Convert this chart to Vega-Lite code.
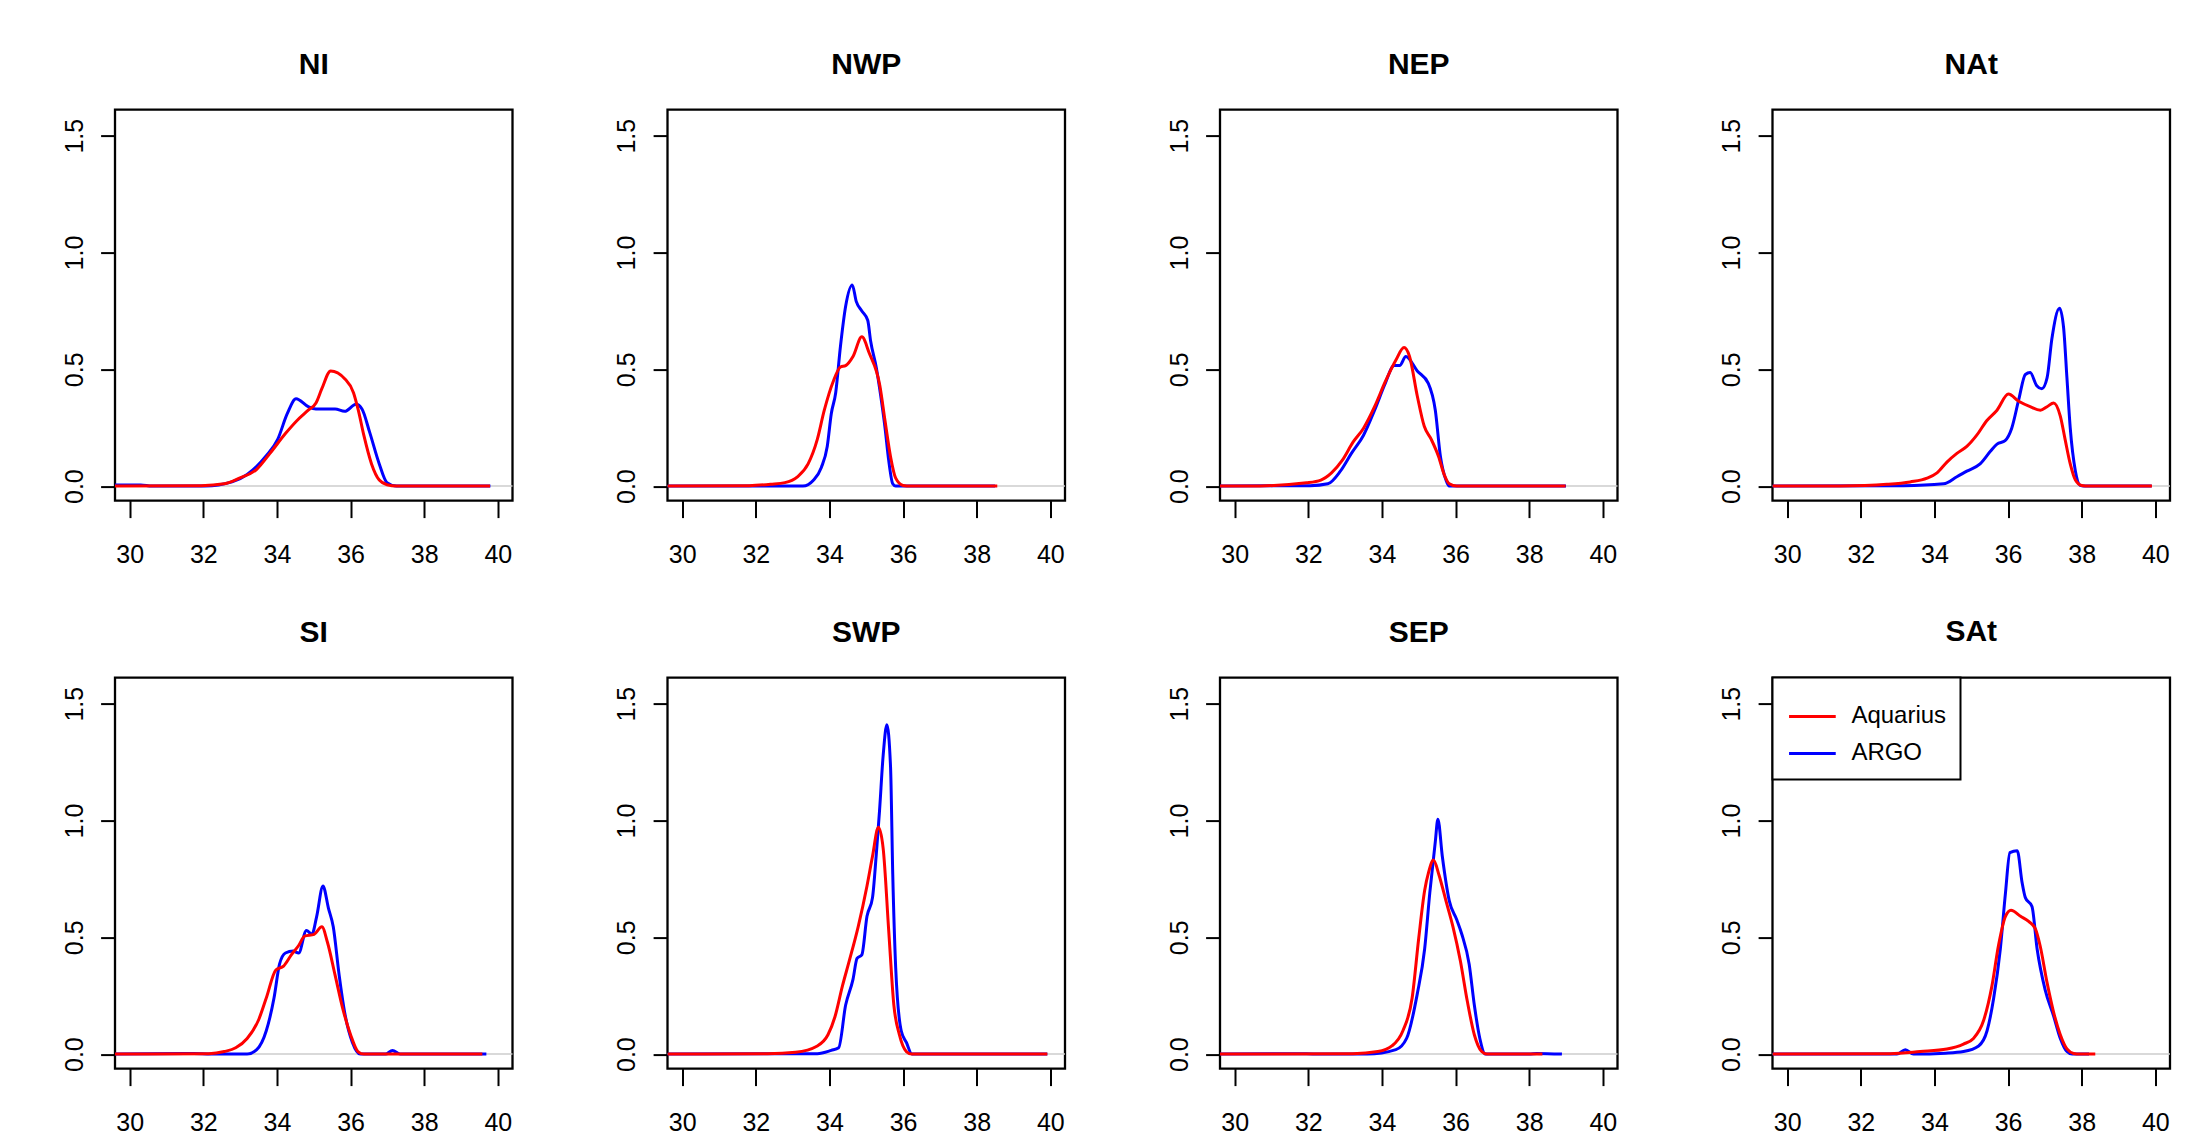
{
  "$schema": "https://vega.github.io/schema/vega-lite/v6.json",
  "background": "white",
  "padding": {"left": 61, "top": 47.6, "right": 0, "bottom": 0},
  "datasets": {
    "d": [
      {"r":"NI","s":"ARGO","x":29.6,"y":0.005},{"r":"NI","s":"ARGO","x":30.3,"y":0.005},{"r":"NI","s":"ARGO","x":30.6,"y":0},{"r":"NI","s":"ARGO","x":32.05,"y":0},{"r":"NI","s":"ARGO","x":32.78,"y":0.018},{"r":"NI","s":"ARGO","x":33.19,"y":0.05},{"r":"NI","s":"ARGO","x":33.71,"y":0.13},{"r":"NI","s":"ARGO","x":34.02,"y":0.2},{"r":"NI","s":"ARGO","x":34.28,"y":0.31},{"r":"NI","s":"ARGO","x":34.52,"y":0.374},{"r":"NI","s":"ARGO","x":34.85,"y":0.34},{"r":"NI","s":"ARGO","x":35.06,"y":0.33},{"r":"NI","s":"ARGO","x":35.58,"y":0.33},{"r":"NI","s":"ARGO","x":35.84,"y":0.32},{"r":"NI","s":"ARGO","x":36.15,"y":0.35},{"r":"NI","s":"ARGO","x":36.31,"y":0.33},{"r":"NI","s":"ARGO","x":36.52,"y":0.23},{"r":"NI","s":"ARGO","x":36.78,"y":0.095},{"r":"NI","s":"ARGO","x":36.99,"y":0.015},{"r":"NI","s":"ARGO","x":37.25,"y":0},{"r":"NI","s":"ARGO","x":39.8,"y":0},
      {"r":"NI","s":"Aquarius","x":29.6,"y":0},{"r":"NI","s":"Aquarius","x":31.94,"y":0.002},{"r":"NI","s":"Aquarius","x":32.57,"y":0.01},{"r":"NI","s":"Aquarius","x":32.98,"y":0.034},{"r":"NI","s":"Aquarius","x":33.45,"y":0.072},{"r":"NI","s":"Aquarius","x":33.81,"y":0.14},{"r":"NI","s":"Aquarius","x":34.23,"y":0.225},{"r":"NI","s":"Aquarius","x":34.54,"y":0.28},{"r":"NI","s":"Aquarius","x":34.85,"y":0.325},{"r":"NI","s":"Aquarius","x":35.06,"y":0.356},{"r":"NI","s":"Aquarius","x":35.22,"y":0.417},{"r":"NI","s":"Aquarius","x":35.46,"y":0.493},{"r":"NI","s":"Aquarius","x":35.84,"y":0.46},{"r":"NI","s":"Aquarius","x":36.08,"y":0.4},{"r":"NI","s":"Aquarius","x":36.21,"y":0.325},{"r":"NI","s":"Aquarius","x":36.36,"y":0.218},{"r":"NI","s":"Aquarius","x":36.57,"y":0.095},{"r":"NI","s":"Aquarius","x":36.78,"y":0.026},{"r":"NI","s":"Aquarius","x":36.99,"y":0.006},{"r":"NI","s":"Aquarius","x":37.25,"y":0},{"r":"NI","s":"Aquarius","x":39.79,"y":0},
      {"r":"NWP","s":"ARGO","x":29.6,"y":0},{"r":"NWP","s":"ARGO","x":33.28,"y":0},{"r":"NWP","s":"ARGO","x":33.57,"y":0.026},{"r":"NWP","s":"ARGO","x":33.78,"y":0.08},{"r":"NWP","s":"ARGO","x":33.94,"y":0.17},{"r":"NWP","s":"ARGO","x":34.05,"y":0.31},{"r":"NWP","s":"ARGO","x":34.17,"y":0.4},{"r":"NWP","s":"ARGO","x":34.3,"y":0.6},{"r":"NWP","s":"ARGO","x":34.44,"y":0.77},{"r":"NWP","s":"ARGO","x":34.62,"y":0.861},{"r":"NWP","s":"ARGO","x":34.73,"y":0.79},{"r":"NWP","s":"ARGO","x":34.88,"y":0.75},{"r":"NWP","s":"ARGO","x":35.04,"y":0.71},{"r":"NWP","s":"ARGO","x":35.12,"y":0.62},{"r":"NWP","s":"ARGO","x":35.27,"y":0.51},{"r":"NWP","s":"ARGO","x":35.39,"y":0.39},{"r":"NWP","s":"ARGO","x":35.51,"y":0.25},{"r":"NWP","s":"ARGO","x":35.61,"y":0.11},{"r":"NWP","s":"ARGO","x":35.72,"y":0.01},{"r":"NWP","s":"ARGO","x":35.8,"y":0},{"r":"NWP","s":"ARGO","x":38.5,"y":0},
      {"r":"NWP","s":"Aquarius","x":29.6,"y":0},{"r":"NWP","s":"Aquarius","x":31.82,"y":0.002},{"r":"NWP","s":"Aquarius","x":32.4,"y":0.008},{"r":"NWP","s":"Aquarius","x":32.79,"y":0.015},{"r":"NWP","s":"Aquarius","x":33.13,"y":0.04},{"r":"NWP","s":"Aquarius","x":33.42,"y":0.095},{"r":"NWP","s":"Aquarius","x":33.67,"y":0.2},{"r":"NWP","s":"Aquarius","x":33.86,"y":0.325},{"r":"NWP","s":"Aquarius","x":34.1,"y":0.447},{"r":"NWP","s":"Aquarius","x":34.3,"y":0.51},{"r":"NWP","s":"Aquarius","x":34.44,"y":0.516},{"r":"NWP","s":"Aquarius","x":34.64,"y":0.555},{"r":"NWP","s":"Aquarius","x":34.88,"y":0.639},{"r":"NWP","s":"Aquarius","x":35.08,"y":0.57},{"r":"NWP","s":"Aquarius","x":35.37,"y":0.43},{"r":"NWP","s":"Aquarius","x":35.51,"y":0.28},{"r":"NWP","s":"Aquarius","x":35.66,"y":0.126},{"r":"NWP","s":"Aquarius","x":35.8,"y":0.034},{"r":"NWP","s":"Aquarius","x":36.0,"y":0.003},{"r":"NWP","s":"Aquarius","x":36.2,"y":0},{"r":"NWP","s":"Aquarius","x":38.56,"y":0},
      {"r":"NEP","s":"ARGO","x":29.6,"y":0},{"r":"NEP","s":"ARGO","x":32.05,"y":0.002},{"r":"NEP","s":"ARGO","x":32.53,"y":0.01},{"r":"NEP","s":"ARGO","x":32.87,"y":0.064},{"r":"NEP","s":"ARGO","x":33.17,"y":0.14},{"r":"NEP","s":"ARGO","x":33.5,"y":0.218},{"r":"NEP","s":"ARGO","x":33.8,"y":0.325},{"r":"NEP","s":"ARGO","x":34.09,"y":0.44},{"r":"NEP","s":"ARGO","x":34.33,"y":0.516},{"r":"NEP","s":"ARGO","x":34.48,"y":0.516},{"r":"NEP","s":"ARGO","x":34.65,"y":0.555},{"r":"NEP","s":"ARGO","x":34.96,"y":0.493},{"r":"NEP","s":"ARGO","x":35.26,"y":0.44},{"r":"NEP","s":"ARGO","x":35.45,"y":0.325},{"r":"NEP","s":"ARGO","x":35.59,"y":0.126},{"r":"NEP","s":"ARGO","x":35.74,"y":0.026},{"r":"NEP","s":"ARGO","x":35.83,"y":0},{"r":"NEP","s":"ARGO","x":39.0,"y":0},
      {"r":"NEP","s":"Aquarius","x":29.6,"y":0},{"r":"NEP","s":"Aquarius","x":30.69,"y":0.001},{"r":"NEP","s":"Aquarius","x":31.95,"y":0.014},{"r":"NEP","s":"Aquarius","x":32.34,"y":0.026},{"r":"NEP","s":"Aquarius","x":32.63,"y":0.057},{"r":"NEP","s":"Aquarius","x":32.92,"y":0.11},{"r":"NEP","s":"Aquarius","x":33.21,"y":0.187},{"r":"NEP","s":"Aquarius","x":33.5,"y":0.248},{"r":"NEP","s":"Aquarius","x":33.8,"y":0.34},{"r":"NEP","s":"Aquarius","x":34.09,"y":0.447},{"r":"NEP","s":"Aquarius","x":34.38,"y":0.54},{"r":"NEP","s":"Aquarius","x":34.6,"y":0.593},{"r":"NEP","s":"Aquarius","x":34.75,"y":0.555},{"r":"NEP","s":"Aquarius","x":34.96,"y":0.386},{"r":"NEP","s":"Aquarius","x":35.15,"y":0.256},{"r":"NEP","s":"Aquarius","x":35.34,"y":0.2},{"r":"NEP","s":"Aquarius","x":35.54,"y":0.126},{"r":"NEP","s":"Aquarius","x":35.69,"y":0.05},{"r":"NEP","s":"Aquarius","x":35.83,"y":0.01},{"r":"NEP","s":"Aquarius","x":36.03,"y":0},{"r":"NEP","s":"Aquarius","x":38.99,"y":0},
      {"r":"NAt","s":"ARGO","x":29.6,"y":0},{"r":"NAt","s":"ARGO","x":33.16,"y":0.002},{"r":"NAt","s":"ARGO","x":34.25,"y":0.01},{"r":"NAt","s":"ARGO","x":34.61,"y":0.04},{"r":"NAt","s":"ARGO","x":34.88,"y":0.064},{"r":"NAt","s":"ARGO","x":35.24,"y":0.095},{"r":"NAt","s":"ARGO","x":35.52,"y":0.149},{"r":"NAt","s":"ARGO","x":35.7,"y":0.18},{"r":"NAt","s":"ARGO","x":35.92,"y":0.195},{"r":"NAt","s":"ARGO","x":36.1,"y":0.248},{"r":"NAt","s":"ARGO","x":36.29,"y":0.37},{"r":"NAt","s":"ARGO","x":36.47,"y":0.478},{"r":"NAt","s":"ARGO","x":36.6,"y":0.486},{"r":"NAt","s":"ARGO","x":36.78,"y":0.43},{"r":"NAt","s":"ARGO","x":36.92,"y":0.417},{"r":"NAt","s":"ARGO","x":37.06,"y":0.463},{"r":"NAt","s":"ARGO","x":37.19,"y":0.63},{"r":"NAt","s":"ARGO","x":37.4,"y":0.762},{"r":"NAt","s":"ARGO","x":37.51,"y":0.677},{"r":"NAt","s":"ARGO","x":37.6,"y":0.463},{"r":"NAt","s":"ARGO","x":37.69,"y":0.248},{"r":"NAt","s":"ARGO","x":37.83,"y":0.064},{"r":"NAt","s":"ARGO","x":37.96,"y":0.003},{"r":"NAt","s":"ARGO","x":38.05,"y":0},{"r":"NAt","s":"ARGO","x":39.9,"y":0},
      {"r":"NAt","s":"Aquarius","x":29.6,"y":0},{"r":"NAt","s":"Aquarius","x":31.44,"y":0.001},{"r":"NAt","s":"Aquarius","x":32.71,"y":0.008},{"r":"NAt","s":"Aquarius","x":33.34,"y":0.018},{"r":"NAt","s":"Aquarius","x":33.8,"y":0.034},{"r":"NAt","s":"Aquarius","x":34.07,"y":0.057},{"r":"NAt","s":"Aquarius","x":34.34,"y":0.103},{"r":"NAt","s":"Aquarius","x":34.61,"y":0.14},{"r":"NAt","s":"Aquarius","x":34.88,"y":0.17},{"r":"NAt","s":"Aquarius","x":35.15,"y":0.218},{"r":"NAt","s":"Aquarius","x":35.42,"y":0.28},{"r":"NAt","s":"Aquarius","x":35.7,"y":0.325},{"r":"NAt","s":"Aquarius","x":36.01,"y":0.394},{"r":"NAt","s":"Aquarius","x":36.29,"y":0.363},{"r":"NAt","s":"Aquarius","x":36.6,"y":0.34},{"r":"NAt","s":"Aquarius","x":36.88,"y":0.325},{"r":"NAt","s":"Aquarius","x":37.06,"y":0.34},{"r":"NAt","s":"Aquarius","x":37.24,"y":0.356},{"r":"NAt","s":"Aquarius","x":37.42,"y":0.3},{"r":"NAt","s":"Aquarius","x":37.55,"y":0.2},{"r":"NAt","s":"Aquarius","x":37.69,"y":0.095},{"r":"NAt","s":"Aquarius","x":37.83,"y":0.026},{"r":"NAt","s":"Aquarius","x":38.0,"y":0.003},{"r":"NAt","s":"Aquarius","x":38.2,"y":0},{"r":"NAt","s":"Aquarius","x":39.91,"y":0},
      {"r":"SI","s":"ARGO","x":29.6,"y":0},{"r":"SI","s":"ARGO","x":31.74,"y":0.003},{"r":"SI","s":"ARGO","x":32.2,"y":0},{"r":"SI","s":"ARGO","x":33.19,"y":0},{"r":"SI","s":"ARGO","x":33.45,"y":0.019},{"r":"SI","s":"ARGO","x":33.71,"y":0.1},{"r":"SI","s":"ARGO","x":33.92,"y":0.24},{"r":"SI","s":"ARGO","x":34.07,"y":0.385},{"r":"SI","s":"ARGO","x":34.23,"y":0.433},{"r":"SI","s":"ARGO","x":34.44,"y":0.441},{"r":"SI","s":"ARGO","x":34.59,"y":0.433},{"r":"SI","s":"ARGO","x":34.8,"y":0.529},{"r":"SI","s":"ARGO","x":34.95,"y":0.513},{"r":"SI","s":"ARGO","x":35.08,"y":0.59},{"r":"SI","s":"ARGO","x":35.25,"y":0.72},{"r":"SI","s":"ARGO","x":35.4,"y":0.624},{"r":"SI","s":"ARGO","x":35.53,"y":0.545},{"r":"SI","s":"ARGO","x":35.69,"y":0.338},{"r":"SI","s":"ARGO","x":35.84,"y":0.178},{"r":"SI","s":"ARGO","x":36.05,"y":0.05},{"r":"SI","s":"ARGO","x":36.26,"y":0},{"r":"SI","s":"ARGO","x":36.95,"y":0},{"r":"SI","s":"ARGO","x":37.14,"y":0.016},{"r":"SI","s":"ARGO","x":37.35,"y":0},{"r":"SI","s":"ARGO","x":39.69,"y":0},
      {"r":"SI","s":"Aquarius","x":29.6,"y":0},{"r":"SI","s":"Aquarius","x":32.15,"y":0.002},{"r":"SI","s":"Aquarius","x":32.57,"y":0.011},{"r":"SI","s":"Aquarius","x":32.88,"y":0.027},{"r":"SI","s":"Aquarius","x":33.19,"y":0.067},{"r":"SI","s":"Aquarius","x":33.5,"y":0.146},{"r":"SI","s":"Aquarius","x":33.71,"y":0.24},{"r":"SI","s":"Aquarius","x":33.97,"y":0.36},{"r":"SI","s":"Aquarius","x":34.18,"y":0.377},{"r":"SI","s":"Aquarius","x":34.39,"y":0.425},{"r":"SI","s":"Aquarius","x":34.59,"y":0.465},{"r":"SI","s":"Aquarius","x":34.75,"y":0.505},{"r":"SI","s":"Aquarius","x":35.01,"y":0.513},{"r":"SI","s":"Aquarius","x":35.22,"y":0.545},{"r":"SI","s":"Aquarius","x":35.37,"y":0.48},{"r":"SI","s":"Aquarius","x":35.58,"y":0.338},{"r":"SI","s":"Aquarius","x":35.79,"y":0.194},{"r":"SI","s":"Aquarius","x":36.0,"y":0.083},{"r":"SI","s":"Aquarius","x":36.2,"y":0.011},{"r":"SI","s":"Aquarius","x":36.36,"y":0},{"r":"SI","s":"Aquarius","x":39.58,"y":0},
      {"r":"SWP","s":"ARGO","x":29.6,"y":0},{"r":"SWP","s":"ARGO","x":33.67,"y":0.002},{"r":"SWP","s":"ARGO","x":34.05,"y":0.016},{"r":"SWP","s":"ARGO","x":34.25,"y":0.027},{"r":"SWP","s":"ARGO","x":34.44,"y":0.21},{"r":"SWP","s":"ARGO","x":34.64,"y":0.32},{"r":"SWP","s":"ARGO","x":34.75,"y":0.41},{"r":"SWP","s":"ARGO","x":34.88,"y":0.425},{"r":"SWP","s":"ARGO","x":35.02,"y":0.59},{"r":"SWP","s":"ARGO","x":35.17,"y":0.67},{"r":"SWP","s":"ARGO","x":35.27,"y":0.85},{"r":"SWP","s":"ARGO","x":35.36,"y":1.04},{"r":"SWP","s":"ARGO","x":35.46,"y":1.28},{"r":"SWP","s":"ARGO","x":35.56,"y":1.41},{"r":"SWP","s":"ARGO","x":35.66,"y":1.23},{"r":"SWP","s":"ARGO","x":35.72,"y":0.77},{"r":"SWP","s":"ARGO","x":35.8,"y":0.37},{"r":"SWP","s":"ARGO","x":35.95,"y":0.1},{"r":"SWP","s":"ARGO","x":36.09,"y":0.05},{"r":"SWP","s":"ARGO","x":36.24,"y":0},{"r":"SWP","s":"ARGO","x":39.92,"y":0},
      {"r":"SWP","s":"Aquarius","x":29.6,"y":0},{"r":"SWP","s":"Aquarius","x":32.31,"y":0.002},{"r":"SWP","s":"Aquarius","x":33.08,"y":0.008},{"r":"SWP","s":"Aquarius","x":33.67,"y":0.035},{"r":"SWP","s":"Aquarius","x":33.96,"y":0.083},{"r":"SWP","s":"Aquarius","x":34.15,"y":0.16},{"r":"SWP","s":"Aquarius","x":34.35,"y":0.29},{"r":"SWP","s":"Aquarius","x":34.54,"y":0.4},{"r":"SWP","s":"Aquarius","x":34.78,"y":0.545},{"r":"SWP","s":"Aquarius","x":35.02,"y":0.72},{"r":"SWP","s":"Aquarius","x":35.17,"y":0.847},{"r":"SWP","s":"Aquarius","x":35.33,"y":0.971},{"r":"SWP","s":"Aquarius","x":35.46,"y":0.88},{"r":"SWP","s":"Aquarius","x":35.61,"y":0.53},{"r":"SWP","s":"Aquarius","x":35.75,"y":0.21},{"r":"SWP","s":"Aquarius","x":35.9,"y":0.083},{"r":"SWP","s":"Aquarius","x":36.09,"y":0.011},{"r":"SWP","s":"Aquarius","x":36.24,"y":0},{"r":"SWP","s":"Aquarius","x":39.92,"y":0},
      {"r":"SEP","s":"ARGO","x":29.6,"y":0},{"r":"SEP","s":"ARGO","x":31.95,"y":0.002},{"r":"SEP","s":"ARGO","x":32.3,"y":0},{"r":"SEP","s":"ARGO","x":33.6,"y":0},{"r":"SEP","s":"ARGO","x":34.38,"y":0.019},{"r":"SEP","s":"ARGO","x":34.67,"y":0.067},{"r":"SEP","s":"ARGO","x":34.96,"y":0.258},{"r":"SEP","s":"ARGO","x":35.16,"y":0.45},{"r":"SEP","s":"ARGO","x":35.3,"y":0.69},{"r":"SEP","s":"ARGO","x":35.45,"y":0.91},{"r":"SEP","s":"ARGO","x":35.52,"y":1.006},{"r":"SEP","s":"ARGO","x":35.64,"y":0.847},{"r":"SEP","s":"ARGO","x":35.83,"y":0.656},{"r":"SEP","s":"ARGO","x":36.03,"y":0.576},{"r":"SEP","s":"ARGO","x":36.17,"y":0.513},{"r":"SEP","s":"ARGO","x":36.37,"y":0.385},{"r":"SEP","s":"ARGO","x":36.51,"y":0.21},{"r":"SEP","s":"ARGO","x":36.66,"y":0.067},{"r":"SEP","s":"ARGO","x":36.81,"y":0},{"r":"SEP","s":"ARGO","x":38.0,"y":0},{"r":"SEP","s":"ARGO","x":38.21,"y":0.003},{"r":"SEP","s":"ARGO","x":38.89,"y":0},
      {"r":"SEP","s":"Aquarius","x":29.6,"y":0},{"r":"SEP","s":"Aquarius","x":33.21,"y":0.002},{"r":"SEP","s":"Aquarius","x":33.89,"y":0.011},{"r":"SEP","s":"Aquarius","x":34.27,"y":0.035},{"r":"SEP","s":"Aquarius","x":34.57,"y":0.1},{"r":"SEP","s":"Aquarius","x":34.82,"y":0.24},{"r":"SEP","s":"Aquarius","x":35.0,"y":0.497},{"r":"SEP","s":"Aquarius","x":35.16,"y":0.7},{"r":"SEP","s":"Aquarius","x":35.27,"y":0.78},{"r":"SEP","s":"Aquarius","x":35.4,"y":0.831},{"r":"SEP","s":"Aquarius","x":35.55,"y":0.767},{"r":"SEP","s":"Aquarius","x":35.74,"y":0.656},{"r":"SEP","s":"Aquarius","x":35.93,"y":0.545},{"r":"SEP","s":"Aquarius","x":36.13,"y":0.4},{"r":"SEP","s":"Aquarius","x":36.32,"y":0.226},{"r":"SEP","s":"Aquarius","x":36.51,"y":0.083},{"r":"SEP","s":"Aquarius","x":36.71,"y":0.011},{"r":"SEP","s":"Aquarius","x":36.85,"y":0},{"r":"SEP","s":"Aquarius","x":38.36,"y":0},
      {"r":"SAt","s":"ARGO","x":29.6,"y":0},{"r":"SAt","s":"ARGO","x":32.98,"y":0},{"r":"SAt","s":"ARGO","x":33.21,"y":0.019},{"r":"SAt","s":"ARGO","x":33.43,"y":0},{"r":"SAt","s":"ARGO","x":34.3,"y":0.004},{"r":"SAt","s":"ARGO","x":34.79,"y":0.011},{"r":"SAt","s":"ARGO","x":35.2,"y":0.035},{"r":"SAt","s":"ARGO","x":35.43,"y":0.1},{"r":"SAt","s":"ARGO","x":35.61,"y":0.24},{"r":"SAt","s":"ARGO","x":35.79,"y":0.45},{"r":"SAt","s":"ARGO","x":35.93,"y":0.69},{"r":"SAt","s":"ARGO","x":36.05,"y":0.863},{"r":"SAt","s":"ARGO","x":36.25,"y":0.871},{"r":"SAt","s":"ARGO","x":36.38,"y":0.736},{"r":"SAt","s":"ARGO","x":36.47,"y":0.67},{"r":"SAt","s":"ARGO","x":36.65,"y":0.632},{"r":"SAt","s":"ARGO","x":36.79,"y":0.45},{"r":"SAt","s":"ARGO","x":37.01,"y":0.274},{"r":"SAt","s":"ARGO","x":37.24,"y":0.162},{"r":"SAt","s":"ARGO","x":37.42,"y":0.067},{"r":"SAt","s":"ARGO","x":37.6,"y":0.011},{"r":"SAt","s":"ARGO","x":37.74,"y":0},{"r":"SAt","s":"ARGO","x":38.2,"y":0},
      {"r":"SAt","s":"Aquarius","x":29.6,"y":0},{"r":"SAt","s":"Aquarius","x":32.8,"y":0.002},{"r":"SAt","s":"Aquarius","x":33.61,"y":0.011},{"r":"SAt","s":"Aquarius","x":34.34,"y":0.022},{"r":"SAt","s":"Aquarius","x":34.79,"y":0.043},{"r":"SAt","s":"Aquarius","x":35.06,"y":0.067},{"r":"SAt","s":"Aquarius","x":35.34,"y":0.146},{"r":"SAt","s":"Aquarius","x":35.56,"y":0.29},{"r":"SAt","s":"Aquarius","x":35.74,"y":0.465},{"r":"SAt","s":"Aquarius","x":35.93,"y":0.59},{"r":"SAt","s":"Aquarius","x":36.08,"y":0.616},{"r":"SAt","s":"Aquarius","x":36.34,"y":0.59},{"r":"SAt","s":"Aquarius","x":36.56,"y":0.568},{"r":"SAt","s":"Aquarius","x":36.74,"y":0.537},{"r":"SAt","s":"Aquarius","x":36.87,"y":0.465},{"r":"SAt","s":"Aquarius","x":37.06,"y":0.306},{"r":"SAt","s":"Aquarius","x":37.24,"y":0.178},{"r":"SAt","s":"Aquarius","x":37.42,"y":0.083},{"r":"SAt","s":"Aquarius","x":37.6,"y":0.022},{"r":"SAt","s":"Aquarius","x":37.78,"y":0.003},{"r":"SAt","s":"Aquarius","x":37.95,"y":0},{"r":"SAt","s":"Aquarius","x":38.37,"y":0}
    ]
  },
  "columns": 4,
  "bounds": "flush",
  "spacing": {"column": 154.5, "row": 177},
  "resolve": {"scale": {"color": "independent"}, "legend": {"color": "independent"}},
  "concat": [
    {"title": "NI", "width": 397.5, "height": 391, "data": {"name": "d"}, "transform": [{"filter": "datum.r === 'NI'"}],
     "layer": [
      {"data": {"values": [{}]}, "mark": {"type": "rule", "color": "#cccccc", "strokeWidth": 1.5}, "encoding": {"y": {"datum": 0, "type": "quantitative", "scale": {"domain": [-0.062, 1.612], "nice": false, "zero": false}, "axis": {"values": [0, 0.5, 1, 1.5], "format": ".1f"}}}},
      {"transform": [{"filter": "datum.s === 'ARGO'"}], "mark": {"type": "line", "strokeWidth": 3, "clip": true, "interpolate": "monotone"},
       "encoding": {"x": {"field": "x", "type": "quantitative", "scale": {"domain": [29.6, 40.4], "nice": false, "zero": false}, "axis": {"values": [30, 32, 34, 36, 38, 40], "format": "d"}}, "y": {"field": "y", "type": "quantitative", "scale": {"domain": [-0.062, 1.612], "nice": false, "zero": false}}, "color": {"field": "s", "type": "nominal", "scale": {"domain": ["Aquarius", "ARGO"], "range": ["#ff0000", "#0000ff"]}, "legend": null}}},
      {"transform": [{"filter": "datum.s === 'Aquarius'"}], "mark": {"type": "line", "strokeWidth": 3, "clip": true, "interpolate": "monotone"},
       "encoding": {"x": {"field": "x", "type": "quantitative", "scale": {"domain": [29.6, 40.4], "nice": false, "zero": false}}, "y": {"field": "y", "type": "quantitative", "scale": {"domain": [-0.062, 1.612], "nice": false, "zero": false}}, "color": {"field": "s", "type": "nominal", "scale": {"domain": ["Aquarius", "ARGO"], "range": ["#ff0000", "#0000ff"]}, "legend": null}}}
     ]},
    {"title": "NWP", "width": 397.5, "height": 391, "data": {"name": "d"}, "transform": [{"filter": "datum.r === 'NWP'"}],
     "layer": [
      {"data": {"values": [{}]}, "mark": {"type": "rule", "color": "#cccccc", "strokeWidth": 1.5}, "encoding": {"y": {"datum": 0, "type": "quantitative", "scale": {"domain": [-0.062, 1.612], "nice": false, "zero": false}, "axis": {"values": [0, 0.5, 1, 1.5], "format": ".1f"}}}},
      {"transform": [{"filter": "datum.s === 'ARGO'"}], "mark": {"type": "line", "strokeWidth": 3, "clip": true, "interpolate": "monotone"},
       "encoding": {"x": {"field": "x", "type": "quantitative", "scale": {"domain": [29.6, 40.4], "nice": false, "zero": false}, "axis": {"values": [30, 32, 34, 36, 38, 40], "format": "d"}}, "y": {"field": "y", "type": "quantitative", "scale": {"domain": [-0.062, 1.612], "nice": false, "zero": false}}, "color": {"field": "s", "type": "nominal", "scale": {"domain": ["Aquarius", "ARGO"], "range": ["#ff0000", "#0000ff"]}, "legend": null}}},
      {"transform": [{"filter": "datum.s === 'Aquarius'"}], "mark": {"type": "line", "strokeWidth": 3, "clip": true, "interpolate": "monotone"},
       "encoding": {"x": {"field": "x", "type": "quantitative", "scale": {"domain": [29.6, 40.4], "nice": false, "zero": false}}, "y": {"field": "y", "type": "quantitative", "scale": {"domain": [-0.062, 1.612], "nice": false, "zero": false}}, "color": {"field": "s", "type": "nominal", "scale": {"domain": ["Aquarius", "ARGO"], "range": ["#ff0000", "#0000ff"]}, "legend": null}}}
     ]},
    {"title": "NEP", "width": 397.5, "height": 391, "data": {"name": "d"}, "transform": [{"filter": "datum.r === 'NEP'"}],
     "layer": [
      {"data": {"values": [{}]}, "mark": {"type": "rule", "color": "#cccccc", "strokeWidth": 1.5}, "encoding": {"y": {"datum": 0, "type": "quantitative", "scale": {"domain": [-0.062, 1.612], "nice": false, "zero": false}, "axis": {"values": [0, 0.5, 1, 1.5], "format": ".1f"}}}},
      {"transform": [{"filter": "datum.s === 'ARGO'"}], "mark": {"type": "line", "strokeWidth": 3, "clip": true, "interpolate": "monotone"},
       "encoding": {"x": {"field": "x", "type": "quantitative", "scale": {"domain": [29.6, 40.4], "nice": false, "zero": false}, "axis": {"values": [30, 32, 34, 36, 38, 40], "format": "d"}}, "y": {"field": "y", "type": "quantitative", "scale": {"domain": [-0.062, 1.612], "nice": false, "zero": false}}, "color": {"field": "s", "type": "nominal", "scale": {"domain": ["Aquarius", "ARGO"], "range": ["#ff0000", "#0000ff"]}, "legend": null}}},
      {"transform": [{"filter": "datum.s === 'Aquarius'"}], "mark": {"type": "line", "strokeWidth": 3, "clip": true, "interpolate": "monotone"},
       "encoding": {"x": {"field": "x", "type": "quantitative", "scale": {"domain": [29.6, 40.4], "nice": false, "zero": false}}, "y": {"field": "y", "type": "quantitative", "scale": {"domain": [-0.062, 1.612], "nice": false, "zero": false}}, "color": {"field": "s", "type": "nominal", "scale": {"domain": ["Aquarius", "ARGO"], "range": ["#ff0000", "#0000ff"]}, "legend": null}}}
     ]},
    {"title": "NAt", "width": 397.5, "height": 391, "data": {"name": "d"}, "transform": [{"filter": "datum.r === 'NAt'"}],
     "layer": [
      {"data": {"values": [{}]}, "mark": {"type": "rule", "color": "#cccccc", "strokeWidth": 1.5}, "encoding": {"y": {"datum": 0, "type": "quantitative", "scale": {"domain": [-0.062, 1.612], "nice": false, "zero": false}, "axis": {"values": [0, 0.5, 1, 1.5], "format": ".1f"}}}},
      {"transform": [{"filter": "datum.s === 'ARGO'"}], "mark": {"type": "line", "strokeWidth": 3, "clip": true, "interpolate": "monotone"},
       "encoding": {"x": {"field": "x", "type": "quantitative", "scale": {"domain": [29.6, 40.4], "nice": false, "zero": false}, "axis": {"values": [30, 32, 34, 36, 38, 40], "format": "d"}}, "y": {"field": "y", "type": "quantitative", "scale": {"domain": [-0.062, 1.612], "nice": false, "zero": false}}, "color": {"field": "s", "type": "nominal", "scale": {"domain": ["Aquarius", "ARGO"], "range": ["#ff0000", "#0000ff"]}, "legend": null}}},
      {"transform": [{"filter": "datum.s === 'Aquarius'"}], "mark": {"type": "line", "strokeWidth": 3, "clip": true, "interpolate": "monotone"},
       "encoding": {"x": {"field": "x", "type": "quantitative", "scale": {"domain": [29.6, 40.4], "nice": false, "zero": false}}, "y": {"field": "y", "type": "quantitative", "scale": {"domain": [-0.062, 1.612], "nice": false, "zero": false}}, "color": {"field": "s", "type": "nominal", "scale": {"domain": ["Aquarius", "ARGO"], "range": ["#ff0000", "#0000ff"]}, "legend": null}}}
     ]},
    {"title": "SI", "width": 397.5, "height": 391, "data": {"name": "d"}, "transform": [{"filter": "datum.r === 'SI'"}],
     "layer": [
      {"data": {"values": [{}]}, "mark": {"type": "rule", "color": "#cccccc", "strokeWidth": 1.5}, "encoding": {"y": {"datum": 0, "type": "quantitative", "scale": {"domain": [-0.062, 1.612], "nice": false, "zero": false}, "axis": {"values": [0, 0.5, 1, 1.5], "format": ".1f"}}}},
      {"transform": [{"filter": "datum.s === 'ARGO'"}], "mark": {"type": "line", "strokeWidth": 3, "clip": true, "interpolate": "monotone"},
       "encoding": {"x": {"field": "x", "type": "quantitative", "scale": {"domain": [29.6, 40.4], "nice": false, "zero": false}, "axis": {"values": [30, 32, 34, 36, 38, 40], "format": "d"}}, "y": {"field": "y", "type": "quantitative", "scale": {"domain": [-0.062, 1.612], "nice": false, "zero": false}}, "color": {"field": "s", "type": "nominal", "scale": {"domain": ["Aquarius", "ARGO"], "range": ["#ff0000", "#0000ff"]}, "legend": null}}},
      {"transform": [{"filter": "datum.s === 'Aquarius'"}], "mark": {"type": "line", "strokeWidth": 3, "clip": true, "interpolate": "monotone"},
       "encoding": {"x": {"field": "x", "type": "quantitative", "scale": {"domain": [29.6, 40.4], "nice": false, "zero": false}}, "y": {"field": "y", "type": "quantitative", "scale": {"domain": [-0.062, 1.612], "nice": false, "zero": false}}, "color": {"field": "s", "type": "nominal", "scale": {"domain": ["Aquarius", "ARGO"], "range": ["#ff0000", "#0000ff"]}, "legend": null}}}
     ]},
    {"title": "SWP", "width": 397.5, "height": 391, "data": {"name": "d"}, "transform": [{"filter": "datum.r === 'SWP'"}],
     "layer": [
      {"data": {"values": [{}]}, "mark": {"type": "rule", "color": "#cccccc", "strokeWidth": 1.5}, "encoding": {"y": {"datum": 0, "type": "quantitative", "scale": {"domain": [-0.062, 1.612], "nice": false, "zero": false}, "axis": {"values": [0, 0.5, 1, 1.5], "format": ".1f"}}}},
      {"transform": [{"filter": "datum.s === 'ARGO'"}], "mark": {"type": "line", "strokeWidth": 3, "clip": true, "interpolate": "monotone"},
       "encoding": {"x": {"field": "x", "type": "quantitative", "scale": {"domain": [29.6, 40.4], "nice": false, "zero": false}, "axis": {"values": [30, 32, 34, 36, 38, 40], "format": "d"}}, "y": {"field": "y", "type": "quantitative", "scale": {"domain": [-0.062, 1.612], "nice": false, "zero": false}}, "color": {"field": "s", "type": "nominal", "scale": {"domain": ["Aquarius", "ARGO"], "range": ["#ff0000", "#0000ff"]}, "legend": null}}},
      {"transform": [{"filter": "datum.s === 'Aquarius'"}], "mark": {"type": "line", "strokeWidth": 3, "clip": true, "interpolate": "monotone"},
       "encoding": {"x": {"field": "x", "type": "quantitative", "scale": {"domain": [29.6, 40.4], "nice": false, "zero": false}}, "y": {"field": "y", "type": "quantitative", "scale": {"domain": [-0.062, 1.612], "nice": false, "zero": false}}, "color": {"field": "s", "type": "nominal", "scale": {"domain": ["Aquarius", "ARGO"], "range": ["#ff0000", "#0000ff"]}, "legend": null}}}
     ]},
    {"title": "SEP", "width": 397.5, "height": 391, "data": {"name": "d"}, "transform": [{"filter": "datum.r === 'SEP'"}],
     "layer": [
      {"data": {"values": [{}]}, "mark": {"type": "rule", "color": "#cccccc", "strokeWidth": 1.5}, "encoding": {"y": {"datum": 0, "type": "quantitative", "scale": {"domain": [-0.062, 1.612], "nice": false, "zero": false}, "axis": {"values": [0, 0.5, 1, 1.5], "format": ".1f"}}}},
      {"transform": [{"filter": "datum.s === 'ARGO'"}], "mark": {"type": "line", "strokeWidth": 3, "clip": true, "interpolate": "monotone"},
       "encoding": {"x": {"field": "x", "type": "quantitative", "scale": {"domain": [29.6, 40.4], "nice": false, "zero": false}, "axis": {"values": [30, 32, 34, 36, 38, 40], "format": "d"}}, "y": {"field": "y", "type": "quantitative", "scale": {"domain": [-0.062, 1.612], "nice": false, "zero": false}}, "color": {"field": "s", "type": "nominal", "scale": {"domain": ["Aquarius", "ARGO"], "range": ["#ff0000", "#0000ff"]}, "legend": null}}},
      {"transform": [{"filter": "datum.s === 'Aquarius'"}], "mark": {"type": "line", "strokeWidth": 3, "clip": true, "interpolate": "monotone"},
       "encoding": {"x": {"field": "x", "type": "quantitative", "scale": {"domain": [29.6, 40.4], "nice": false, "zero": false}}, "y": {"field": "y", "type": "quantitative", "scale": {"domain": [-0.062, 1.612], "nice": false, "zero": false}}, "color": {"field": "s", "type": "nominal", "scale": {"domain": ["Aquarius", "ARGO"], "range": ["#ff0000", "#0000ff"]}, "legend": null}}}
     ]},
    {"title": "SAt", "width": 397.5, "height": 391, "data": {"name": "d"}, "transform": [{"filter": "datum.r === 'SAt'"}],
     "layer": [
      {"data": {"values": [{}]}, "mark": {"type": "rule", "color": "#cccccc", "strokeWidth": 1.5}, "encoding": {"y": {"datum": 0, "type": "quantitative", "scale": {"domain": [-0.062, 1.612], "nice": false, "zero": false}, "axis": {"values": [0, 0.5, 1, 1.5], "format": ".1f"}}}},
      {"transform": [{"filter": "datum.s === 'ARGO'"}], "mark": {"type": "line", "strokeWidth": 3, "clip": true, "interpolate": "monotone"},
       "encoding": {"x": {"field": "x", "type": "quantitative", "scale": {"domain": [29.6, 40.4], "nice": false, "zero": false}, "axis": {"values": [30, 32, 34, 36, 38, 40], "format": "d"}}, "y": {"field": "y", "type": "quantitative", "scale": {"domain": [-0.062, 1.612], "nice": false, "zero": false}}, "color": {"field": "s", "type": "nominal", "scale": {"domain": ["Aquarius", "ARGO"], "range": ["#ff0000", "#0000ff"]}}}},
      {"transform": [{"filter": "datum.s === 'Aquarius'"}], "mark": {"type": "line", "strokeWidth": 3, "clip": true, "interpolate": "monotone"},
       "encoding": {"x": {"field": "x", "type": "quantitative", "scale": {"domain": [29.6, 40.4], "nice": false, "zero": false}}, "y": {"field": "y", "type": "quantitative", "scale": {"domain": [-0.062, 1.612], "nice": false, "zero": false}},
        "color": {"field": "s", "type": "nominal", "scale": {"domain": ["Aquarius", "ARGO"], "range": ["#ff0000", "#0000ff"]},
         "legend": {"orient": "top-left", "offset": 0, "title": null, "symbolType": "stroke", "symbolStrokeWidth": 3, "symbolSize": 2180, "symbolOffset": 1, "labelFontSize": 24, "labelFont": "Liberation Sans", "labelColor": "black", "padding": 13.9, "rowPadding": -5, "labelOffset": 14, "strokeColor": "black", "fillColor": "white"}}}}
     ]}
  ],
  "config": {
    "view": {"stroke": "black", "strokeWidth": 2.3, "fill": "white"},
    "title": {"font": "Liberation Sans", "fontSize": 30, "fontWeight": "bold", "color": "black", "anchor": "middle", "frame": "group", "baseline": "alphabetic", "offset": 30},
    "legend": {"strokeWidth": 2},
    "axis": {"grid": false, "domain": false, "title": null, "labelFont": "Liberation Sans", "labelFontSize": 25, "labelColor": "black", "tickColor": "black", "tickWidth": 2, "labelFlush": false, "labelOverlap": false},
    "axisX": {"tickSize": 17, "labelPadding": 25, "labelBaseline": "top"},
    "axisY": {"tickSize": 14.4, "labelPadding": 18.3, "labelAngle": -90, "labelAlign": "center", "labelBaseline": "alphabetic"}
  }
}
